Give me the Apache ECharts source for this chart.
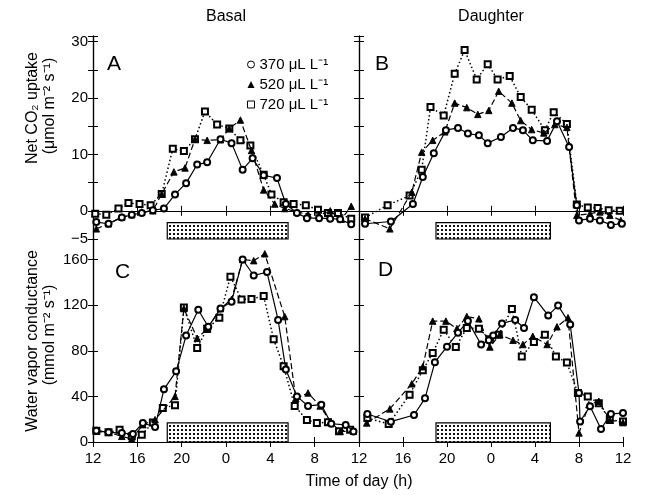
<!DOCTYPE html>
<html><head><meta charset="utf-8">
<script src="https://cdn.jsdelivr.net/npm/echarts@6/dist/echarts.min.js"></script>
<style>html,body{margin:0;padding:0;background:#fff}#c{width:645px;height:495px}</style>
</head><body><div id="c"></div>
<script>
const FONT = 'Liberation Sans';
const columnTitles = ['Basal', 'Daughter'];
const panelLetters = ['A', 'B', 'C', 'D'];
const seriesNames = ['370', '520', '720'];
const xTickLabels = ['12', '16', '20', '0', '4', '8', '12'];
const co2TickLabels = { '-5': '\u22125', '0': '0', '10': '10', '20': '20', '30': '30' };
const gsTickLabels = { '0': '0', '40': '40', '80': '80', '120': '120', '160': '160' };

// [hours after 12:00, Net CO2 uptake (µmol m-2 s-1)]
const co2Basal370 = [[0.3,-2.0],[1.4,-2.3],[2.6,-1.2],[3.5,-0.7],[4.4,-0.4],[5.4,0.1],[6.4,0.4],[7.4,2.9],[8.4,4.9],[9.4,8.2],[10.3,8.6],[11.5,12.7],[12.5,12.0],[13.5,7.3],[14.4,9.3],[15.4,6.3],[16.6,5.8],[17.4,1.2],[18.4,-0.4],[19.3,-1.3],[20.4,-1.3],[21.4,-1.4],[22.3,-1.5],[23.3,-2.4]];
const co2Basal520 = [[0.3,-3.2],[1.4,-2.3],[2.6,-1.1],[3.5,-0.7],[4.4,-0.2],[5.4,0.0],[6.2,3.0],[7.3,6.9],[8.3,7.6],[9.2,12.7],[10.3,12.5],[11.5,12.6],[12.3,14.6],[13.3,16.1],[14.3,10.7],[15.4,3.7],[16.4,1.2],[17.3,0.4],[18.4,-0.2],[19.4,-0.6],[20.4,-0.8],[21.4,0.0],[22.4,-1.5],[23.3,0.8]];
const co2Basal720 = [[0.2,-0.5],[1.2,-0.7],[2.3,0.4],[3.2,1.4],[4.2,1.2],[5.2,1.0],[6.2,3.0],[7.2,11.0],[8.2,10.6],[9.2,12.7],[10.1,17.6],[11.2,15.3],[12.3,14.6],[13.3,12.5],[14.2,11.6],[15.4,6.4],[16.1,2.9],[17.2,1.5],[18.1,1.2],[19.2,1.0],[20.3,0.2],[21.2,-0.4],[22.1,-0.4],[23.3,-1.4]];
const co2Daughter370 = [[0.55,-2.3],[2.9,-1.9],[4.9,1.2],[5.8,6.0],[6.8,10.2],[7.9,14.3],[9.0,14.7],[9.9,13.7],[10.9,13.4],[11.7,12.0],[12.9,13.1],[14.0,14.7],[14.9,14.3],[15.8,12.5],[17.1,12.4],[18.0,15.9],[19.1,11.3],[19.8,1.0],[20.0,-1.7],[21.0,-1.4],[21.9,-1.7],[22.9,-2.5],[23.9,-2.3]];
const co2Daughter520 = [[0.55,-1.4],[2.8,-3.2],[4.8,3.3],[5.7,10.4],[6.7,12.5],[7.8,14.0],[8.7,19.1],[9.8,18.3],[10.8,17.1],[11.8,17.8],[12.7,21.2],[13.9,19.1],[14.7,16.0],[15.7,14.4],[16.8,13.8],[17.8,15.3],[18.9,14.8],[19.8,-0.8],[21.0,-0.5],[21.9,-0.2],[22.8,-0.8],[23.8,-1.7]];
const co2Daughter720 = [[0.55,-1.2],[2.6,1.0],[4.6,2.7],[5.7,7.3],[6.5,18.4],[7.7,16.9],[8.7,24.3],[9.6,28.5],[10.7,23.3],[11.7,26.0],[12.6,23.3],[13.7,23.9],[14.7,20.2],[15.7,17.9],[16.9,14.3],[17.7,17.5],[18.9,15.4],[19.8,1.1],[20.8,0.6],[21.7,0.5],[22.7,0.1],[23.7,0.0]];

// [hours after 12:00, Water vapor conductance (mmol m-2 s-1)]
const gsBasal370 = [[0.3,9.9],[1.4,8.5],[2.6,7.9],[3.6,7.0],[4.5,16.7],[5.6,13.2],[6.4,46.2],[7.5,62.0],[8.4,93.3],[9.5,116],[10.4,101],[11.5,117],[12.5,123],[13.5,160],[14.5,146],[15.7,149],[16.7,107],[17.4,63.5],[18.4,40],[19.4,31.6],[20.6,32.7],[21.5,16],[22.8,15],[23.5,9.3]];
const gsBasal520 = [[0.3,9.4],[1.4,8.5],[2.6,5.0],[3.5,2.6],[4.5,15.2],[5.6,19.6],[7.4,40],[8.2,117],[9.4,91],[10.3,99],[11.5,117],[12.5,125],[13.5,160],[14.5,159],[15.5,165],[17.3,110],[18.3,38],[19.4,43],[20.5,31.6],[21.4,17.8],[22.3,9.4],[23.5,9.4]];
const gsBasal720 = [[0.3,9.9],[1.4,8.5],[2.4,10.8],[3.5,5.0],[4.4,6.4],[5.4,17],[6.3,29.8],[7.4,32.2],[8.2,118],[9.4,82.5],[10.3,99.4],[11.4,109],[12.4,145],[13.4,125],[14.3,125.4],[15.4,128],[16.3,90],[17.2,66.4],[18.2,31.6],[19.3,19.3],[20.2,16.7],[21.2,17.3],[22.2,9.4],[23.2,10.8]];
const gsDaughter370 = [[0.76,24.6],[2.9,17.8],[5.0,23.7],[6.0,38.3],[6.9,70],[8.0,83.6],[9.0,95.9],[9.9,106],[11.1,85.5],[11.8,89.2],[12.2,93.3],[13.0,104],[14.2,107],[15.0,100],[15.9,127],[17.2,111],[18.1,119.6],[19.2,103],[20.0,43],[20.1,18],[21.0,31.3],[22.0,11.4],[22.9,24.6],[24.0,25.4]];
const gsDaughter520 = [[0.7,16.7],[2.8,29],[4.8,51],[5.8,66],[6.7,106],[7.9,106],[8.9,99.4],[9.8,110],[10.9,108],[11.9,83.3],[12.8,94.2],[14.0,89.2],[14.9,85.5],[15.8,92.7],[17.1,85.5],[18.0,101],[19.0,109],[20.0,7.9],[20.9,32.7],[21.8,35.7],[22.8,19.3],[24.0,17]];
const gsDaughter720 = [[0.76,21],[2.7,15.8],[4.6,41.5],[5.8,63],[6.7,78],[7.7,98.5],[8.8,83.3],[9.8,100],[10.9,99.4],[11.9,90],[12.7,94],[13.9,116.7],[14.8,75],[15.9,87.7],[16.9,94],[17.9,75],[18.9,69.6],[19.9,43],[20.8,40],[21.8,34],[22.8,19.3],[24.0,18]];

// dark period [start, end] in hours after 12:00
const darkBasal = [6.7, 17.6];
const darkDaughter = [7.0, 17.4];

const grids = [
  { left: 93, top: 36, width: 266, height: 203 },
  { left: 359, top: 36, width: 264, height: 203 },
  { left: 93, top: 239, width: 266, height: 203 },
  { left: 359, top: 239, width: 264, height: 203 }
];
const panels = [
  { data: [co2Basal370, co2Basal520, co2Basal720], co2: true, dark: darkBasal },
  { data: [co2Daughter370, co2Daughter520, co2Daughter720], co2: true, dark: darkDaughter },
  { data: [gsBasal370, gsBasal520, gsBasal720], co2: false, dark: darkBasal },
  { data: [gsDaughter370, gsDaughter520, gsDaughter720], co2: false, dark: darkDaughter }
];
const looks = [
  { symbol: 'emptyCircle', size: 6, type: 'solid', width: 1.2 },
  { symbol: 'triangle', size: 6.5, type: [6, 3], width: 1.2 },
  { symbol: 'emptyRect', size: 6, type: [1.5, 2.5], width: 1.5 }
];

// stipple pattern
const pc = document.createElement('canvas');
pc.width = 4; pc.height = 4;
const pctx = pc.getContext('2d');
pctx.fillStyle = '#fff'; pctx.fillRect(0, 0, 4, 4);
pctx.fillStyle = '#111'; pctx.fillRect(1, 1, 2, 2);
const stipple = { image: pc, repeat: 'repeat' };

const tickStyle = { show: true, inside: true, length: 5, lineStyle: { color: '#000', width: 1 } };
const lineStyleAxis = { show: true, lineStyle: { color: '#000', width: 1.2 } };
const labelText = { color: '#000', fontFamily: FONT, fontSize: 15 };

const xAxes = [], yAxes = [], series = [];
panels.forEach((p, i) => {
  const bottomRow = i >= 2, leftCol = i % 2 === 0;
  const xBase = { gridIndex: i, type: 'value', min: 0, max: 24, interval: 4,
    axisLine: lineStyleAxis, axisTick: tickStyle, splitLine: { show: false } };
  xAxes.push(Object.assign({}, xBase, { position: 'bottom',
    axisLabel: { show: bottomRow, margin: 9, ...labelText,
      formatter: v => (!leftCol && v === 0) ? '' : (xTickLabels[v / 4] || '') } }));
  xAxes.push(Object.assign({}, xBase, { position: 'top', axisLabel: { show: false } }));
  const yBase = p.co2
    ? { min: -5, max: 31, interval: 5 }
    : { min: 0, max: 178, interval: 40 };
  const labels = p.co2 ? co2TickLabels : gsTickLabels;
  yAxes.push(Object.assign({ gridIndex: i, type: 'value', position: 'left',
    axisLine: lineStyleAxis, axisTick: tickStyle, splitLine: { show: false },
    axisLabel: { show: leftCol, margin: 5, ...labelText, formatter: v => labels[String(v)] || '' } }, yBase));
  yAxes.push(Object.assign({ gridIndex: i, type: 'value', position: 'right',
    axisLine: lineStyleAxis, axisTick: tickStyle, splitLine: { show: false },
    axisLabel: { show: false } }, yBase));

  p.data.forEach((d, k) => {
    const lk = looks[k];
    const s = {
      name: seriesNames[k], type: 'line', xAxisIndex: 2 * i, yAxisIndex: 2 * i,
      data: d, symbol: lk.symbol, symbolSize: lk.size, showAllSymbol: true,
      itemStyle: { color: '#000', borderColor: '#000', borderWidth: 0.9 },
      lineStyle: { color: '#000', width: lk.width, type: lk.type },
      emphasis: { disabled: true }, z: 3 + (2 - k)
    };
    if (k === 0) {
      s.markArea = { silent: true, z: 1,
        itemStyle: { color: stipple, borderColor: '#000', borderWidth: 1.2, opacity: 1 },
        data: [[{ xAxis: p.dark[0], yAxis: p.co2 ? -5 : 0 },
                { xAxis: p.dark[1], yAxis: p.co2 ? -2.1 : 16.7 }]] };
      if (p.co2) {
        s.markLine = { silent: true, symbol: 'none', animation: false,
          label: { show: false },
          lineStyle: { color: '#000', width: 1.1, type: [10, 7] },
          data: [{ yAxis: 0 }] };
      }
    }
    series.push(s);
  });
});

const txt = (text, x, y, size, align, rot) => ({
  type: 'text', x: x, y: y, rotation: rot || 0, silent: true,
  style: { text: text, fill: '#000', font: size + 'px "' + FONT + '"',
    align: align || 'center', verticalAlign: 'middle',
    textAlign: align || 'center', textVerticalAlign: 'middle' }
});

const chart = echarts.init(document.getElementById('c'), null, { renderer: 'canvas' });
chart.setOption({
  animation: false,
  backgroundColor: '#fff',
  grid: grids.map(g => Object.assign({ outerBoundsMode: 'none', containLabel: false }, g)),
  xAxis: xAxes,
  yAxis: yAxes,
  legend: {
    orient: 'vertical', left: 242, top: 52, itemWidth: 7, itemHeight: 7, itemGap: 5,
    selectedMode: false,
    textStyle: { color: '#000', fontFamily: FONT, fontSize: 15 },
    formatter: n => n + ' \u03bcL L\u207b\u00b9',
    data: [
      { name: seriesNames[0], icon: 'circle', itemStyle: { color: '#fff', borderColor: '#000', borderWidth: 1 } },
      { name: seriesNames[1], icon: 'triangle', itemStyle: { color: '#000', borderWidth: 0 } },
      { name: seriesNames[2], icon: 'rect', itemStyle: { color: '#fff', borderColor: '#000', borderWidth: 1 } }
    ]
  },
  graphic: [
    txt(columnTitles[0], 226, 17, 16),
    txt(columnTitles[1], 491, 17, 16),
    txt(panelLetters[0], 107, 64, 21, 'left'),
    txt(panelLetters[1], 375, 64, 21, 'left'),
    txt(panelLetters[2], 115, 272, 21, 'left'),
    txt(panelLetters[3], 378, 270, 21, 'left'),
    txt('Time of day (h)', 359, 482, 16),
    txt('Net CO\u2082 uptake', 33, 108, 16, 'center', Math.PI / 2),
    txt('(\u03bcmol m\u207b\u00b2 s\u207b\u00b9)', 50, 106, 16, 'center', Math.PI / 2),
    txt('Water vapor conductance', 33, 341, 16, 'center', Math.PI / 2),
    txt('(mmol m\u207b\u00b2 s\u207b\u00b9)', 50, 335, 16, 'center', Math.PI / 2)
  ],
  series: series
});
</script></body></html>
